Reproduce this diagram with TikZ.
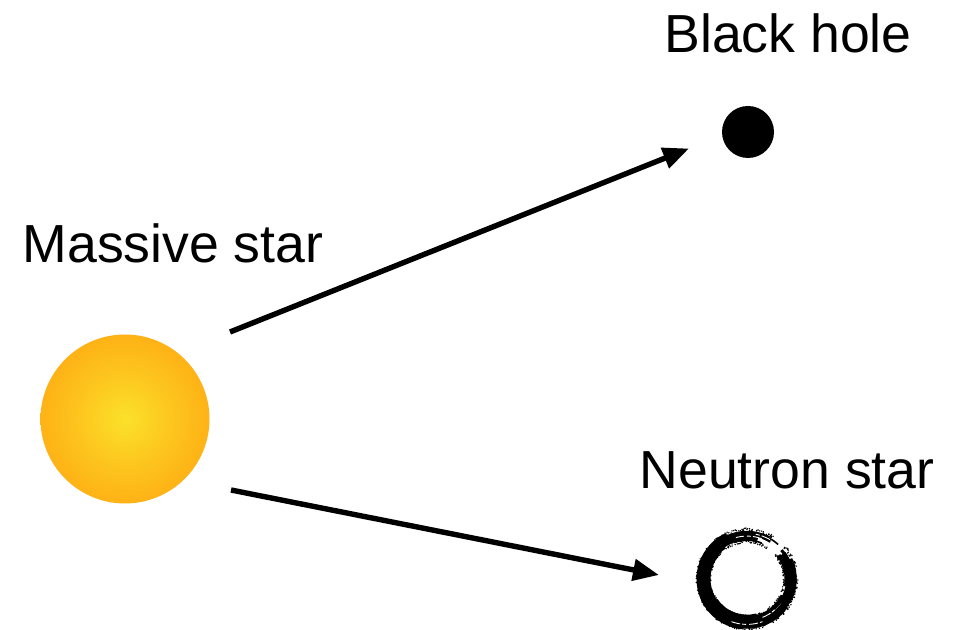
\documentclass[tikz,border=0pt]{standalone}
\usepackage{fontspec}
\setmainfont{Liberation Sans}
\usetikzlibrary{arrows.meta}
\definecolor{glowcore}{RGB}{251,225,42}
\definecolor{glowmid}{RGB}{253,197,30}
\definecolor{glowrim}{RGB}{254,171,18}
\pgfdeclareradialshading{starglow}{\pgfpoint{0bp}{0bp}}{%
  color(0bp)=(glowcore);
  color(14bp)=(glowmid);
  color(29bp)=(glowrim);
  color(100bp)=(glowrim)}
\tikzset{
  label text/.style={anchor=base,font=\fontsize{53.6}{54}\selectfont,text=black,inner sep=0pt},
  flow tip/.style={line width=5.4pt,draw=black,-{Triangle[length=26pt,width=21pt]}},
}
\begin{document}
\begin{tikzpicture}[x=1pt,y=1pt]
  \useasboundingbox (0,0) rectangle (968,629);
  \fill[white] (0,0) rectangle (968,629);

  % Progenitor star
  \node[circle,minimum size=169pt,inner sep=0pt,shading=starglow] (star) at (125,210) {};
  \node[label text] (starlabel) at (173,366) {Massive star};

  % Black hole
  \node[circle,fill=black,minimum size=52pt,inner sep=0pt] (hole) at (748,497) {};
  \node[label text] (holelabel) at (788,576) {Black hole};

  % Neutron star: a brushed ring built from overlapping strands and bristles
  \coordinate (ring) at (747,50);
  \node[label text] (ringlabel) at (787,140) {Neutron star};
  \foreach \s/\e/\r/\w in {
      62/130/46.5/3.4, 58/120/44/2.4, 75/165/41/4.5, 48/66/46.5/1.6, 68/110/38.8/1.6,
      115/265/46.5/8, 125/275/41.5/8.5, 140/265/38.5/4,
      240/325/47/5.5, 225/300/43/6, 230/335/39.5/4.5, 215/285/37/2.5,
      300/365/45.5/7, 325/395/43/8, 335/385/47.5/4.5, 350/397/39.5/4, 368/400/45/3}
  {
    \draw[black,line width=\w pt] ([shift={(\s:\r)}]ring) arc[start angle=\s,end angle=\e,radius=\r];
  }
  % Bristles along both edges of the stroke
  \pgfmathsetseed{4217}
  \foreach \i in {1,...,520} {
    \pgfmathsetmacro{\ang}{57+rnd*345}
    \pgfmathsetmacro{\rad}{rnd<0.5 ? 48+rnd*3 : 36+rnd*2.5}
    \fill[black] ([shift={(\ang:\rad)}]ring) circle[radius=0.8];
  }
  % Pale streaks left by the dry brush
  \foreach \s/\e/\r in {70/105/42.9, 250/290/45.4, 292/312/41.4, 60/82/45.6} {
    \draw[white,line width=0.9pt,dash pattern=on 9pt off 2pt on 4pt off 3pt]
      ([shift={(\s:\r)}]ring) arc[start angle=\s,end angle=\e,radius=\r];
  }

  % Evolution paths
  \coordinate (upfrom) at (230,297);
  \coordinate (upto) at (689,480.5);
  \coordinate (downfrom) at (231,139);
  \coordinate (downto) at (659,54);
  \draw[flow tip] (upfrom) -- (upto);
  \draw[flow tip] (downfrom) -- (downto);
\end{tikzpicture}
\end{document}
